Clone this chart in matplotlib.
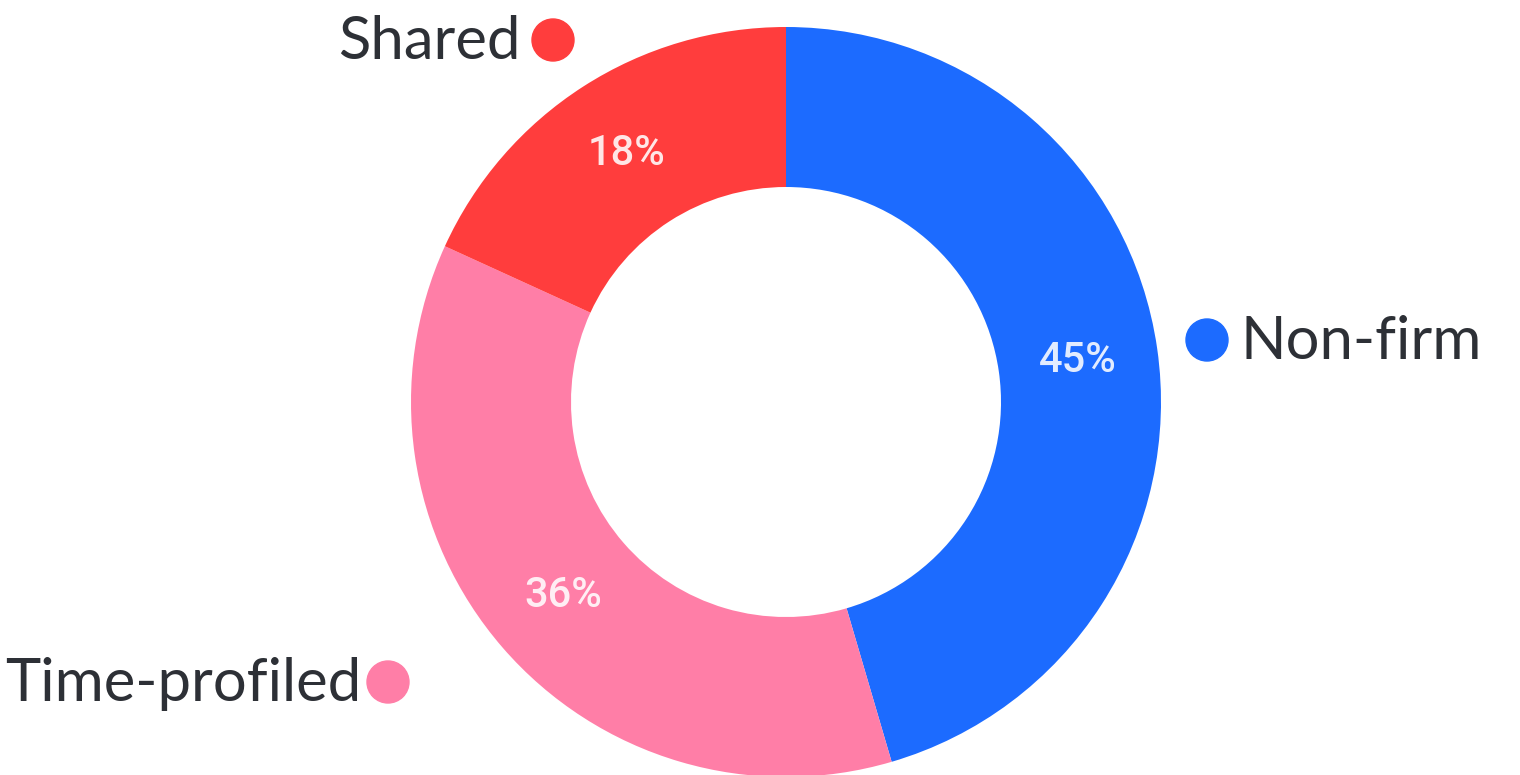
import matplotlib.pyplot as plt
from matplotlib.patches import Circle

labels = ["Non-firm", "Time-profiled", "Shared"]
shares = [45, 36, 18]
colors = ["#1c6bff", "#ff7ea7", "#ff3d3d"]

W, H = 1520, 775
fig = plt.figure(figsize=(W / 100, H / 100), dpi=100)
ax = fig.add_axes([0, 0, 1, 1])

cx, cy, r_out, r_in = 786, 373, 375, 215
total = sum(shares)
wedges, _, pct_texts = ax.pie(
    shares,
    colors=colors,
    startangle=90,
    counterclock=False,
    center=(cx, cy),
    radius=r_out,
    wedgeprops=dict(width=r_out - r_in, linewidth=0),
    autopct=lambda p: f"{p * total / 100:.0f}%",
    pctdistance=(r_out + r_in) / 2 / r_out,
    textprops=dict(color="white", fontsize=30, family="Roboto",
                   fontweight="medium", alpha=0.88),
    frame=True,
)
ax.set_xlim(0, W)
ax.set_ylim(0, H)
ax.set_aspect("equal")
ax.axis("off")

label_style = dict(fontsize=43, family="Lato", color="#2d3036", va="center")

# category tags with colored dots
ax.add_patch(Circle((1207, H - 340), 21, color=colors[0]))
ax.text(1240, H - 342, labels[0], ha="left", **label_style)

ax.add_patch(Circle((388, H - 682), 21, color=colors[1]))
ax.text(361, H - 684, labels[1], ha="right", **label_style)

ax.add_patch(Circle((553, H - 40), 21, color=colors[2]))
ax.text(521, H - 42, labels[2], ha="right", **label_style)

fig.savefig("out.png", dpi=100, facecolor="white")
